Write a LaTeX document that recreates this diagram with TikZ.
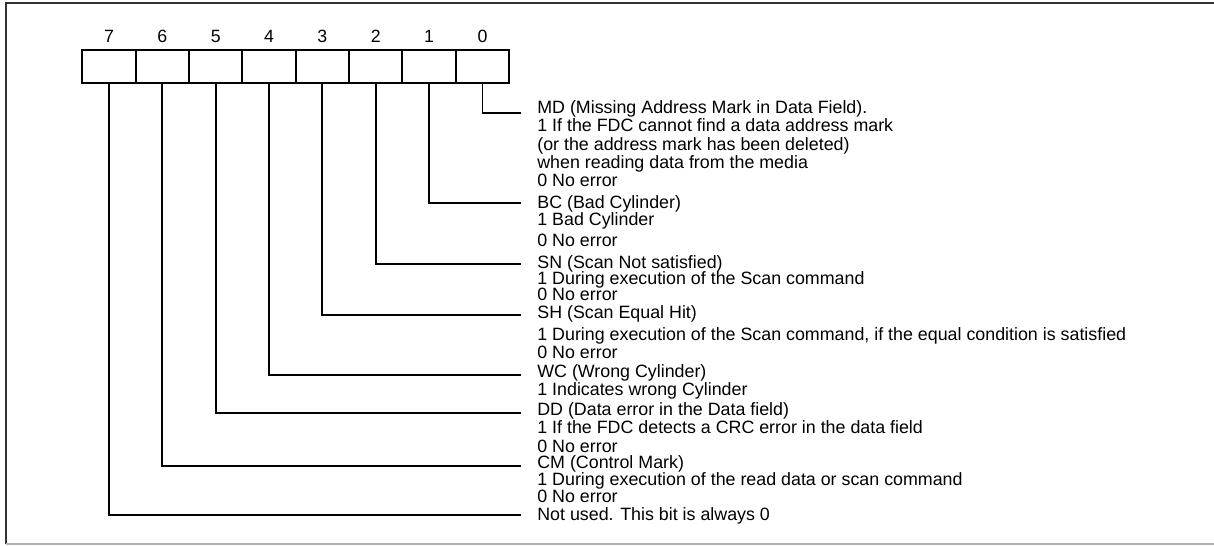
\documentclass[tikz,border=0pt]{standalone}
\usepackage{fontspec}
\setmainfont{Liberation Sans}
\tikzset{
  cell/.style={draw,line width=1.1pt,minimum width=1.067cm,minimum height=0.66cm,inner sep=0pt},
  wire/.style={line width=1.1pt},
  desc/.style={anchor=base west,align=left,inner sep=0pt,font=\fontsize{10.15}{10.4}\selectfont}
}
\begin{document}
\begin{tikzpicture}[x=0.02cm,y=-0.02cm]
      \useasboundingbox (0,0) rectangle (1214,546);
      \draw[black!80,line width=1.2pt] (1214,3)--(6,3)--(6,544); %frame
      \draw[gray!60,line width=0.8pt] (6,544)--(1214,544);
      % register bits
      \foreach \i in {0,...,7}{
        \node[cell] (b\i) at ({482.5-53.36*\i},66.5) {};
        \node[font=\fontsize{10.1}{12}\selectfont] (d\i) at ({482.5-53.36*\i},36) {\i};
      }
      % text ends of the wires
      \coordinate (t0) at (521,113);
      \coordinate (t1) at (521,203);
      \coordinate (t2) at (521,264);
      \coordinate (t3) at (521,315);
      \coordinate (t4) at (521,375);
      \coordinate (t5) at (521,413);
      \coordinate (t6) at (521,466);
      \coordinate (t7) at (521,515);
      % descriptions, placed at the baseline of their last line
      \node[desc] (md) at (537,186.8) {MD (Missing Address Mark in Data Field).\\1 If the FDC cannot find a data address mark\\(or the address mark has been deleted)\\when reading data from the media\\0 No error};
      \node[desc] (bc) at (537,246.3) {BC (Bad Cylinder)\\[-0.8pt]1 Bad Cylinder\\[1.5pt]0 No error};
      \node[desc] (sn) at (537,300.9) {SN (Scan Not satisfied)\\[-1pt]1 During execution of the Scan command\\[-1.3pt]0 No error};
      \node[desc] (sh) at (537,358.8) {SH (Scan Equal Hit)\\[2.1pt]1 During execution of the Scan command, if the equal condition is satisfied\\0 No error};
      \node[desc] (wc) at (537,395.8) {WC (Wrong Cylinder)\\1 Indicates wrong Cylinder};
      \node[desc] (dd) at (537,452.1) {DD (Data error in the Data field)\\1 If the FDC detects a CRC error in the data field\\0 No error};
      \node[desc] (cm) at (537,502.7) {CM (Control Mark)\\[-0.6pt]1 During execution of the read data or scan command\\[-0.6pt]0 No error};
      \node[desc] (nu) at (537,520.4) {Not used. This bit is always 0};
      \foreach \i in {0,...,7}
        \draw[wire] (b\i.south) |- (t\i);
\end{tikzpicture}
\end{document}
